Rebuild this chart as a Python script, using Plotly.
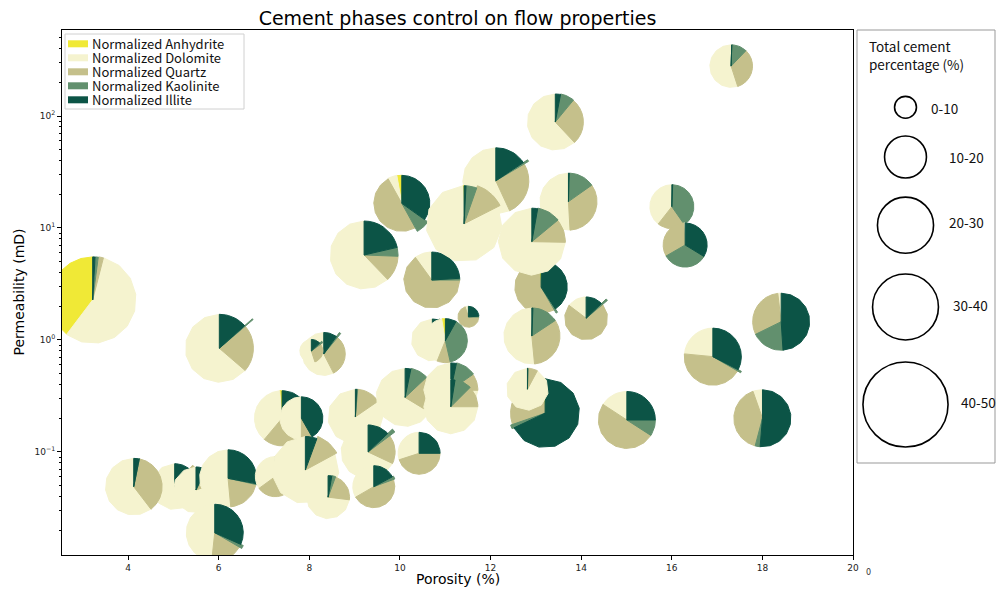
import numpy as np
import plotly.graph_objects as go

# ---------------- data (drawing order) ----------------
porosity = [3.22, 5.03, 4.126, 5.50, 6.208, 5.914, 6.015, 8.32, 8.046, 7.40, 7.826, 7.25, 7.914, 8.415,
            9.018, 9.298, 9.424, 10.115, 10.424, 11.124, 11.124, 10.717, 11.004, 11.512, 9.21, 10.042,
            10.704, 12.117, 11.417, 13.43, 13.72, 13.117, 12.912, 12.912, 13.205, 12.815, 14.11, 15.009,
            16.002, 16.296, 16.907, 17.31, 18.415, 18.002]
permeability = [2.28, 0.049, 0.049, 0.0458, 0.0582, 0.019, 0.843, 0.75, 0.798, 0.2, 0.2, 0.0603, 0.069, 0.0395,
                0.206, 0.1, 0.049, 0.307, 0.0973, 0.358, 0.2535, 1.0, 0.986, 1.61, 5.74, 16.6,
                3.43, 26.4, 10.9, 88.4, 17.2, 2.97, 7.55, 1.086, 0.222, 0.363, 1.563, 0.193,
                15.5, 7.05, 0.71, 279.0, 1.456, 0.2]
cement_total = [44.7, 16.8, 24.3, 16.8, 24.6, 24.6, 35.3, 14.8, 4.8, 23.2, 14.8, 13.3, 34.6, 14.8,
                23.2, 22.5, 14.3, 25.4, 14.3, 22.5, 22.5, 14.3, 15.4, 3.8, 35.3, 23.9,
                23.9, 33.6, 39.5, 23.9, 24.6, 21.3, 34.6, 23.9, 35.8, 14.3, 14.6, 24.6,
                15.4, 15.4, 24.6, 14.6, 24.6, 24.6]
anhydrite = [0.397, 0, 0, 0, 0, 0, 0, 0, 0, 0.014, 0, 0, 0, 0,
             0, 0, 0, 0, 0, 0, 0, 0, 0.027, 0, 0, 0.028,
             0, 0, 0.005, 0, 0, 0.02, 0, 0, 0.014, 0, 0, 0,
             0, 0, 0, 0, 0, 0]
dolomite = [0.561, 0.847, 0.604, 0.80, 0.515, 0.483, 0.637, 0.575, 0.55, 0.375, 0.50, 0.35, 0.829, 0.731,
            0.846, 0.68, 0.333, 0.664, 0.30, 0.75, 0.75, 0.85, 0.412, 0.05, 0.622, 0.053,
            0.10, 0.569, 0.82, 0.62, 0.509, 0.0, 0.747, 0.516, 0.0, 0.922, 0.147, 0.158,
            0.394, 0.01, 0.235, 0.55, 0.019, 0.054]
quartz = [0.02, 0.042, 0.364, 0.12, 0.20, 0.183, 0.224, 0.314, 0.30, 0.278, 0.083, 0.30, 0.115, 0.214,
          0.14, 0.17, 0.472, 0.207, 0.45, 0.10, 0.125, 0.08, 0.097, 0.70, 0.122, 0.50,
          0.65, 0.264, 0.121, 0.27, 0.339, 0.562, 0.113, 0.328, 0.289, 0.072, 0.714, 0.501,
          0.203, 0.322, 0.432, 0.328, 0.304, 0.405]
kaolinite = [0.012, 0, 0.001, 0.01, 0.005, 0.017, 0.005, 0.01, 0.02, 0.208, 0, 0, 0, 0.028,
             0.006, 0.02, 0.022, 0.098, 0, 0.12, 0.10, 0.02, 0.383, 0.01, 0.042, 0.071,
             0.01, 0.01, 0.046, 0.08, 0.146, 0.01, 0.112, 0.149, 0.017, 0, 0.011, 0.091,
             0.397, 0.328, 0.008, 0.117, 0.1875, 0.028]
illite = [0.01, 0.111, 0.031, 0.07, 0.28, 0.317, 0.134, 0.10, 0.13, 0.125, 0.417, 0.35, 0.056, 0.028,
          0.008, 0.13, 0.172, 0.032, 0.25, 0.033, 0.025, 0.05, 0.081, 0.24, 0.214, 0.349,
          0.24, 0.157, 0.008, 0.03, 0.006, 0.408, 0.028, 0.008, 0.68, 0.006, 0.128, 0.25,
          0.006, 0.336, 0.326, 0.005, 0.49, 0.513]

phase_names = ["Normalized Anhydrite", "Normalized Dolomite", "Normalized Quartz",
               "Normalized Kaolinite", "Normalized Illite"]
size_bin_labels = ["0-10", "10-20", "20-30", "30-40", "40-50"]
size_bin_mid = [5, 15, 25, 35, 45]
x_tick_vals = [4, 6, 8, 10, 12, 14, 16, 18, 20]
y_tick_vals = [0.1, 1, 10, 100]
y_tick_text = ["10<sup>\u22121</sup>", "10<sup>0</sup>", "10<sup>1</sup>", "10<sup>2</sup>"]

# ---------------- style ----------------
phase_colors = ["#f0e936", "#f5f3cf", "#c5c08b", "#62906e", "#0c5446"]
size_radius_px = [11.7, 21.7, 28.8, 33.7, 43.3]   # marker radius for each bin midpoint

W, H = 997, 589
ML, MR, MT, MB = 62, 144, 30, 34
PW, PH = W - ML - MR, H - MT - MB
x_range = [2.543, 20.0]
y_range_log = [-1.92, 2.768]
ppx = PW / (x_range[1] - x_range[0])
ppd = PH / (y_range_log[1] - y_range_log[0])


def radius_for(c):
    if c < size_bin_mid[0]:
        slope = (size_radius_px[1] - size_radius_px[0]) / (size_bin_mid[1] - size_bin_mid[0])
        return size_radius_px[0] + (c - size_bin_mid[0]) * slope
    return float(np.interp(c, size_bin_mid, size_radius_px))


def px(xp):
    return (xp - ML) / PW


def py(yp):
    return (H - MB - yp) / PH


fig = go.Figure()

for i in range(len(porosity)):
    fr = np.array([anhydrite[i], dolomite[i], quartz[i], kaolinite[i], illite[i]], float)
    fr = fr / fr.sum()
    R = radius_for(cement_total[i])
    start = 90.0
    for k in range(5):
        if fr[k] <= 0:
            continue
        a0, a1 = start, start + 360.0 * fr[k]
        start = a1
        t = np.radians(np.linspace(a0, a1, 10))
        cx, cy = np.cos(t), np.sin(t)
        sc = 1.0 / max(np.abs(cx).max(), np.abs(cy).max())
        dx = np.concatenate([[0.0], R * sc * cx, [0.0]])
        dy = np.concatenate([[0.0], R * sc * cy, [0.0]])
        xs = porosity[i] + dx / ppx
        ys = 10 ** (np.log10(permeability[i]) + dy / ppd)
        fig.add_trace(go.Scatter(x=xs, y=ys, mode="lines", fill="toself",
                                 fillcolor=phase_colors[k],
                                 line=dict(color=phase_colors[k], width=1),
                                 hoverinfo="skip", showlegend=False))

shapes = []
annotations = []

# phase legend (upper-left box)
shapes.append(dict(type="rect", xref="paper", yref="paper", x0=px(65), x1=px(244), y0=py(109), y1=py(34),
                   line=dict(color="#d0d0d0", width=1), fillcolor="rgba(255,255,255,0.85)", layer="above"))
for k, name in enumerate(phase_names):
    yc = 43.8 + 14 * k
    shapes.append(dict(type="rect", xref="paper", yref="paper", x0=px(68), x1=px(88),
                       y0=py(yc + 3.5), y1=py(yc - 3.5), line=dict(width=0),
                       fillcolor=phase_colors[k], layer="above"))
    annotations.append(dict(text=name, xref="paper", yref="paper", x=px(90), y=py(yc),
                            xanchor="left", yanchor="middle", showarrow=False,
                            font=dict(family="Noto Sans CJK JP", size=13, color="#111")))

# size legend (right box)
shapes.append(dict(type="rect", xref="paper", yref="paper", x0=px(857), x1=px(995), y0=py(463), y1=py(30),
                   line=dict(color="#999999", width=1), fillcolor="white"))
annotations.append(dict(text="Total cement<br>percentage (%)", xref="paper", yref="paper",
                        x=px(867), y=py(55), xanchor="left", yanchor="middle", align="left",
                        showarrow=False, font=dict(family="Noto Sans CJK JP", size=13.5, color="#111")))
circle_cy = [107.3, 157.0, 225.2, 307.0, 404.5]
label_x = [929, 946.7, 946.7, 950.7, 959.3]
label_y = [108, 157.3, 222, 305, 401.7]
for k, lab in enumerate(size_bin_labels):
    r = radius_for(size_bin_mid[k]) - 0.75
    shapes.append(dict(type="circle", xref="paper", yref="paper", xsizemode="pixel", ysizemode="pixel",
                       xanchor=px(905.5), yanchor=py(circle_cy[k]), x0=-r, x1=r, y0=-r, y1=r,
                       line=dict(color="black", width=1.6)))
    annotations.append(dict(text=lab, xref="paper", yref="paper", x=px(label_x[k]), y=py(label_y[k]),
                            xanchor="left", yanchor="middle", showarrow=False,
                            font=dict(family="Noto Sans CJK JP", size=13.5, color="#111")))

# titles
annotations.append(dict(text="Porosity (%)", xref="paper", yref="paper", x=0.5, y=py(579),
                        xanchor="center", yanchor="middle", showarrow=False,
                        font=dict(family="DejaVu Sans", size=14, color="black")))
annotations.append(dict(text="Permeability (mD)", xref="paper", yref="paper", x=px(18), y=0.5,
                        xanchor="center", yanchor="middle", showarrow=False, textangle=-90,
                        font=dict(family="DejaVu Sans", size=14, color="black")))
annotations.append(dict(text="0", xref="paper", yref="paper", x=px(868), y=py(572),
                        xanchor="center", yanchor="middle", showarrow=False,
                        font=dict(family="DejaVu Sans", size=8, color="#333")))

minor_vals = [m * 10.0 ** e for e in range(-2, 3) for m in range(2, 10)]

fig.update_layout(
    width=W, height=H, autosize=False,
    margin=dict(l=ML, r=MR, t=MT, b=MB, pad=0),
    paper_bgcolor="white", plot_bgcolor="white",
    showlegend=False,
    title=dict(text="Cement phases control on flow properties", x=0.5, xref="paper",
               y=1 - 18 / H, yref="container", xanchor="center", yanchor="middle",
               font=dict(family="DejaVu Sans", size=19, color="black")),
    xaxis=dict(range=x_range, showline=True, mirror=True, linecolor="black", linewidth=1,
               ticks="outside", ticklen=4, tickwidth=1, tickcolor="black",
               tickvals=x_tick_vals, showgrid=False, zeroline=False,
               tickfont=dict(family="DejaVu Sans", size=9, color="#222")),
    yaxis=dict(type="log", range=y_range_log, showline=True, mirror=True, linecolor="black", linewidth=1,
               ticks="outside", ticklen=4, tickwidth=1, tickcolor="black",
               tickvals=y_tick_vals, ticktext=y_tick_text, showgrid=False, zeroline=False,
               tickfont=dict(family="DejaVu Sans", size=9, color="#222"),
               minor=dict(tickvals=minor_vals, ticks="outside", ticklen=2, tickcolor="black", showgrid=False)),
    shapes=shapes, annotations=annotations,
)

fig.write_html("out.html", config={"displayModeBar": False, "staticPlot": True},
               post_script="document.body.style.margin='0px';document.body.style.overflow='hidden';")
